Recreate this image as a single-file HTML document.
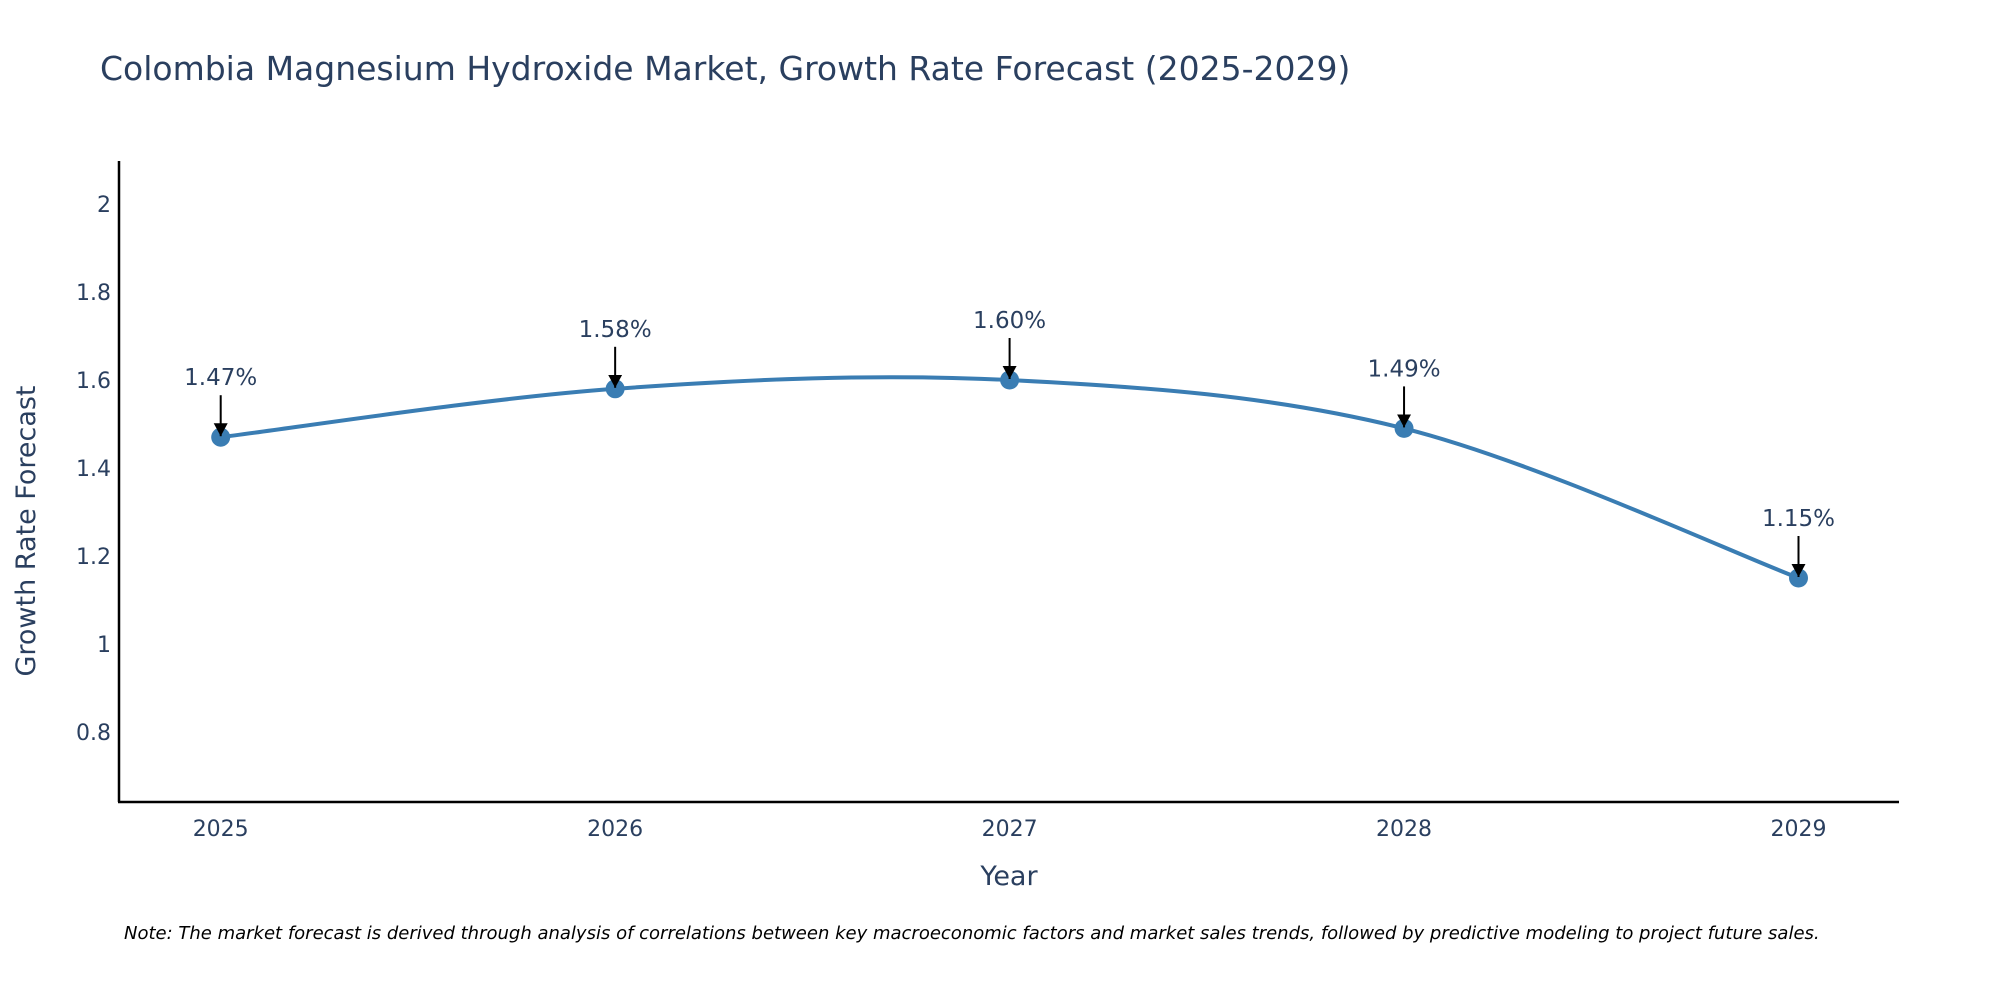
<!DOCTYPE html>
<html><head><meta charset="utf-8"><style>
body{margin:0;background:#fff;font-family:"DejaVu Sans","Liberation Sans",sans-serif;}
svg text{font-family:"DejaVu Sans","Liberation Sans",sans-serif;fill:#2a3f5f;}
</style></head><body>
<svg id="chart" width="2000" height="1000" xmlns="http://www.w3.org/2000/svg">
<text x="100" y="80" font-size="33">Colombia Magnesium Hydroxide Market, Growth Rate Forecast (2025-2029)</text>
<line x1="119" y1="161" x2="119" y2="802" stroke="#000" stroke-width="2.5"/>
<line x1="118" y1="802" x2="1899" y2="802" stroke="#000" stroke-width="2.5"/>
<g id="yticks"></g><g id="xticks"></g>
<text transform="translate(35,531) rotate(-90)" text-anchor="middle" font-size="27">Growth Rate Forecast</text>
<text x="1009" y="885" text-anchor="middle" font-size="27">Year</text>
<path id="line" fill="none" stroke="#3a7db3" stroke-width="4"/>
<g id="points"></g>
<defs><marker id="ah" markerWidth="14" markerHeight="14" refX="13" refY="7" orient="auto" markerUnits="userSpaceOnUse"><path d="M0,0 L13,7 L0,14 Z" fill="#000"/></marker></defs>
<text x="124" y="939" font-size="18" font-style="italic" style="fill:#000">Note: The market forecast is derived through analysis of correlations between key macroeconomic factors and market sales trends, followed by predictive modeling to project future sales.</text>
</svg>
<script>
const years=[2025,2026,2027,2028,2029];
const values=[1.47,1.58,1.60,1.49,1.15];
const labels=["1.47%","1.58%","1.60%","1.49%","1.15%"];
const yTicks=[0.8,1,1.2,1.4,1.6,1.8,2];
const NS="http://www.w3.org/2000/svg";
const xs=y=>220.7+(y-2025)*394.45;
const ys=v=>644-(v-1)*440;
function mk(t,a,p){const e=document.createElementNS(NS,t);for(const k in a)e.setAttribute(k,a[k]);p.appendChild(e);return e;}
const yt=document.getElementById('yticks');
yTicks.forEach(v=>{const t=mk('text',{x:111,y:ys(v)+8,'text-anchor':'end','font-size':'22'},yt);


t.textContent=String(v);});
const xt=document.getElementById('xticks');
years.forEach(y=>{const t=mk('text',{x:xs(y),y:836,'text-anchor':'middle','font-size':'22'},xt);


t.textContent=String(y);});
const P=years.map((y,i)=>[xs(y),ys(values[i])]);
let d="M"+P[0][0]+","+P[0][1];
for(let i=0;i<P.length-1;i++){
 const p0=P[i-1]||P[i],p1=P[i],p2=P[i+1],p3=P[i+2]||P[i+1];
 const k=1/6;
 const c1=[p1[0]+(p2[0]-p0[0])*k,p1[1]+(p2[1]-p0[1])*k];
 const c2=[p2[0]-(p3[0]-p1[0])*k,p2[1]-(p3[1]-p1[1])*k];
 d+=` C${c1[0]},${c1[1]} ${c2[0]},${c2[1]} ${p2[0]},${p2[1]}`;
}
document.getElementById('line').setAttribute('d',d);
const pg=document.getElementById('points');
P.forEach((p,i)=>{
 const c=mk('circle',{cx:p[0],cy:p[1],r:9.5,fill:'#3a7db3'},pg);
 
 
 const a=mk('line',{x1:p[0],y1:p[1]-42,x2:p[0],y2:p[1]-1,stroke:'#000','stroke-width':2,'marker-end':'url(#ah)'},pg);
 
 
 const t=mk('text',{x:p[0],y:p[1]-52,'text-anchor':'middle','font-size':'23'},pg);
 
 
 t.textContent=labels[i];
});
</script>
</body></html>
